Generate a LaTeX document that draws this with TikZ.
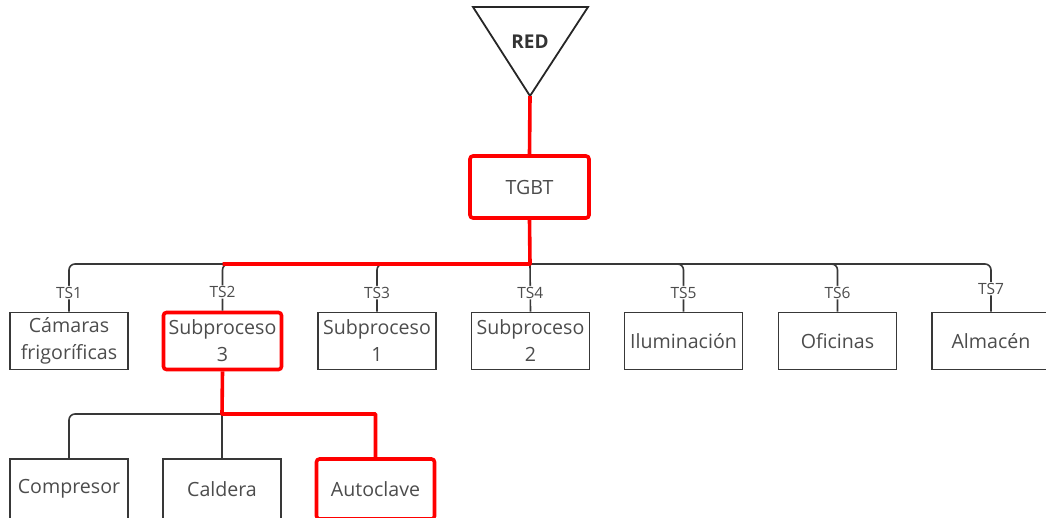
\documentclass[tikz,border=0pt]{standalone}
\usepackage{fontspec}
\setmainfont{Open Sans}
\begin{document}
\begin{tikzpicture}[x=1pt,y=-1pt,
  txt/.style={text=black!70},
  box/.style={draw=black!78, line width=1.6pt, rectangle, minimum width=118pt,
    minimum height=57pt, inner sep=0pt, align=center, txt,
    font=\fontsize{19.6}{27}\selectfont},
  hotbox/.style={box, draw=red, line width=3.6pt, rounded corners=3pt},
  wire/.style={draw=black!78, line width=1.6pt, rounded corners=6pt},
  hotwire/.style={draw=red, line width=3.6pt, line join=round},
  tslabel/.style={fill=white, inner sep=1pt, txt, font=\fontsize{15.5}{17}\selectfont}
]
\useasboundingbox (0,0) rectangle (1046,517);

% supply point
\draw[line width=1.8pt, black!85, line join=miter] (473,7) -- (588,7) -- (530,96) -- cycle;
\coordinate (apex) at (530,96);
\node[font=\bfseries\fontsize{19}{22}\selectfont, text=black!80] (red) at (530,42) {RED};

% main board
\node[hotbox, minimum width=119pt, minimum height=62pt] (tgbt) at (529.5,187) {TGBT};

% secondary boards
\node[box]    (cam)  at (69,341)    {Cámaras\\frigoríficas};
\node[hotbox] (sub3) at (222.5,341) {Subproceso\\3};
\node[box]    (sub1) at (377,341)   {Subproceso\\1};
\node[box]    (sub2) at (530.5,341) {Subproceso\\2};
\node[box]    (ilum) at (683.5,341) {Iluminación};
\node[box]    (ofi)  at (837.5,341) {Oficinas};
\node[box]    (alm)  at (991,341)   {Almacén};

% loads of subprocess 3
\node[box, minimum height=60pt]    (comp) at (69,489)    {Compresor};
\node[box, minimum height=60pt]    (cald) at (222,489)   {Caldera};
\node[hotbox, minimum height=60pt] (auto) at (375.5,489) {Autoclave};

\coordinate (bus)  at (530,264);
\coordinate (bus2) at (222,414);

% distribution bus
\draw[wire] (cam.north)  |- node[tslabel, pos=0.2]  {TS1} (bus);
\draw[wire] (sub3.north) |- node[tslabel, pos=0.2]  {TS2} (bus);
\draw[wire] (sub1.north) |- node[tslabel, pos=0.2]  {TS3} (bus);
\draw[wire] (sub2.north) -- node[tslabel, pos=0.4]  {TS4} (bus);
\draw[wire] (ilum.north) |- node[tslabel, pos=0.2]  {TS5} (bus);
\draw[wire] (ofi.north)  |- node[tslabel, pos=0.2]  {TS6} (bus);
\draw[wire] (alm.north)  |- node[tslabel, pos=0.24] {TS7} (bus);

% subprocess 3 bus
\draw[wire] (comp.north) |- (bus2);
\draw[wire] (cald.north) -- (bus2);

% highlighted path
\draw[hotwire] (apex) -- (tgbt.north);
\draw[hotwire] (tgbt.south) -- (bus) -- (bus -| sub3.north);
\draw[hotwire] (sub3.south) -- (bus2) -| (auto.north);
\end{tikzpicture}
\end{document}
